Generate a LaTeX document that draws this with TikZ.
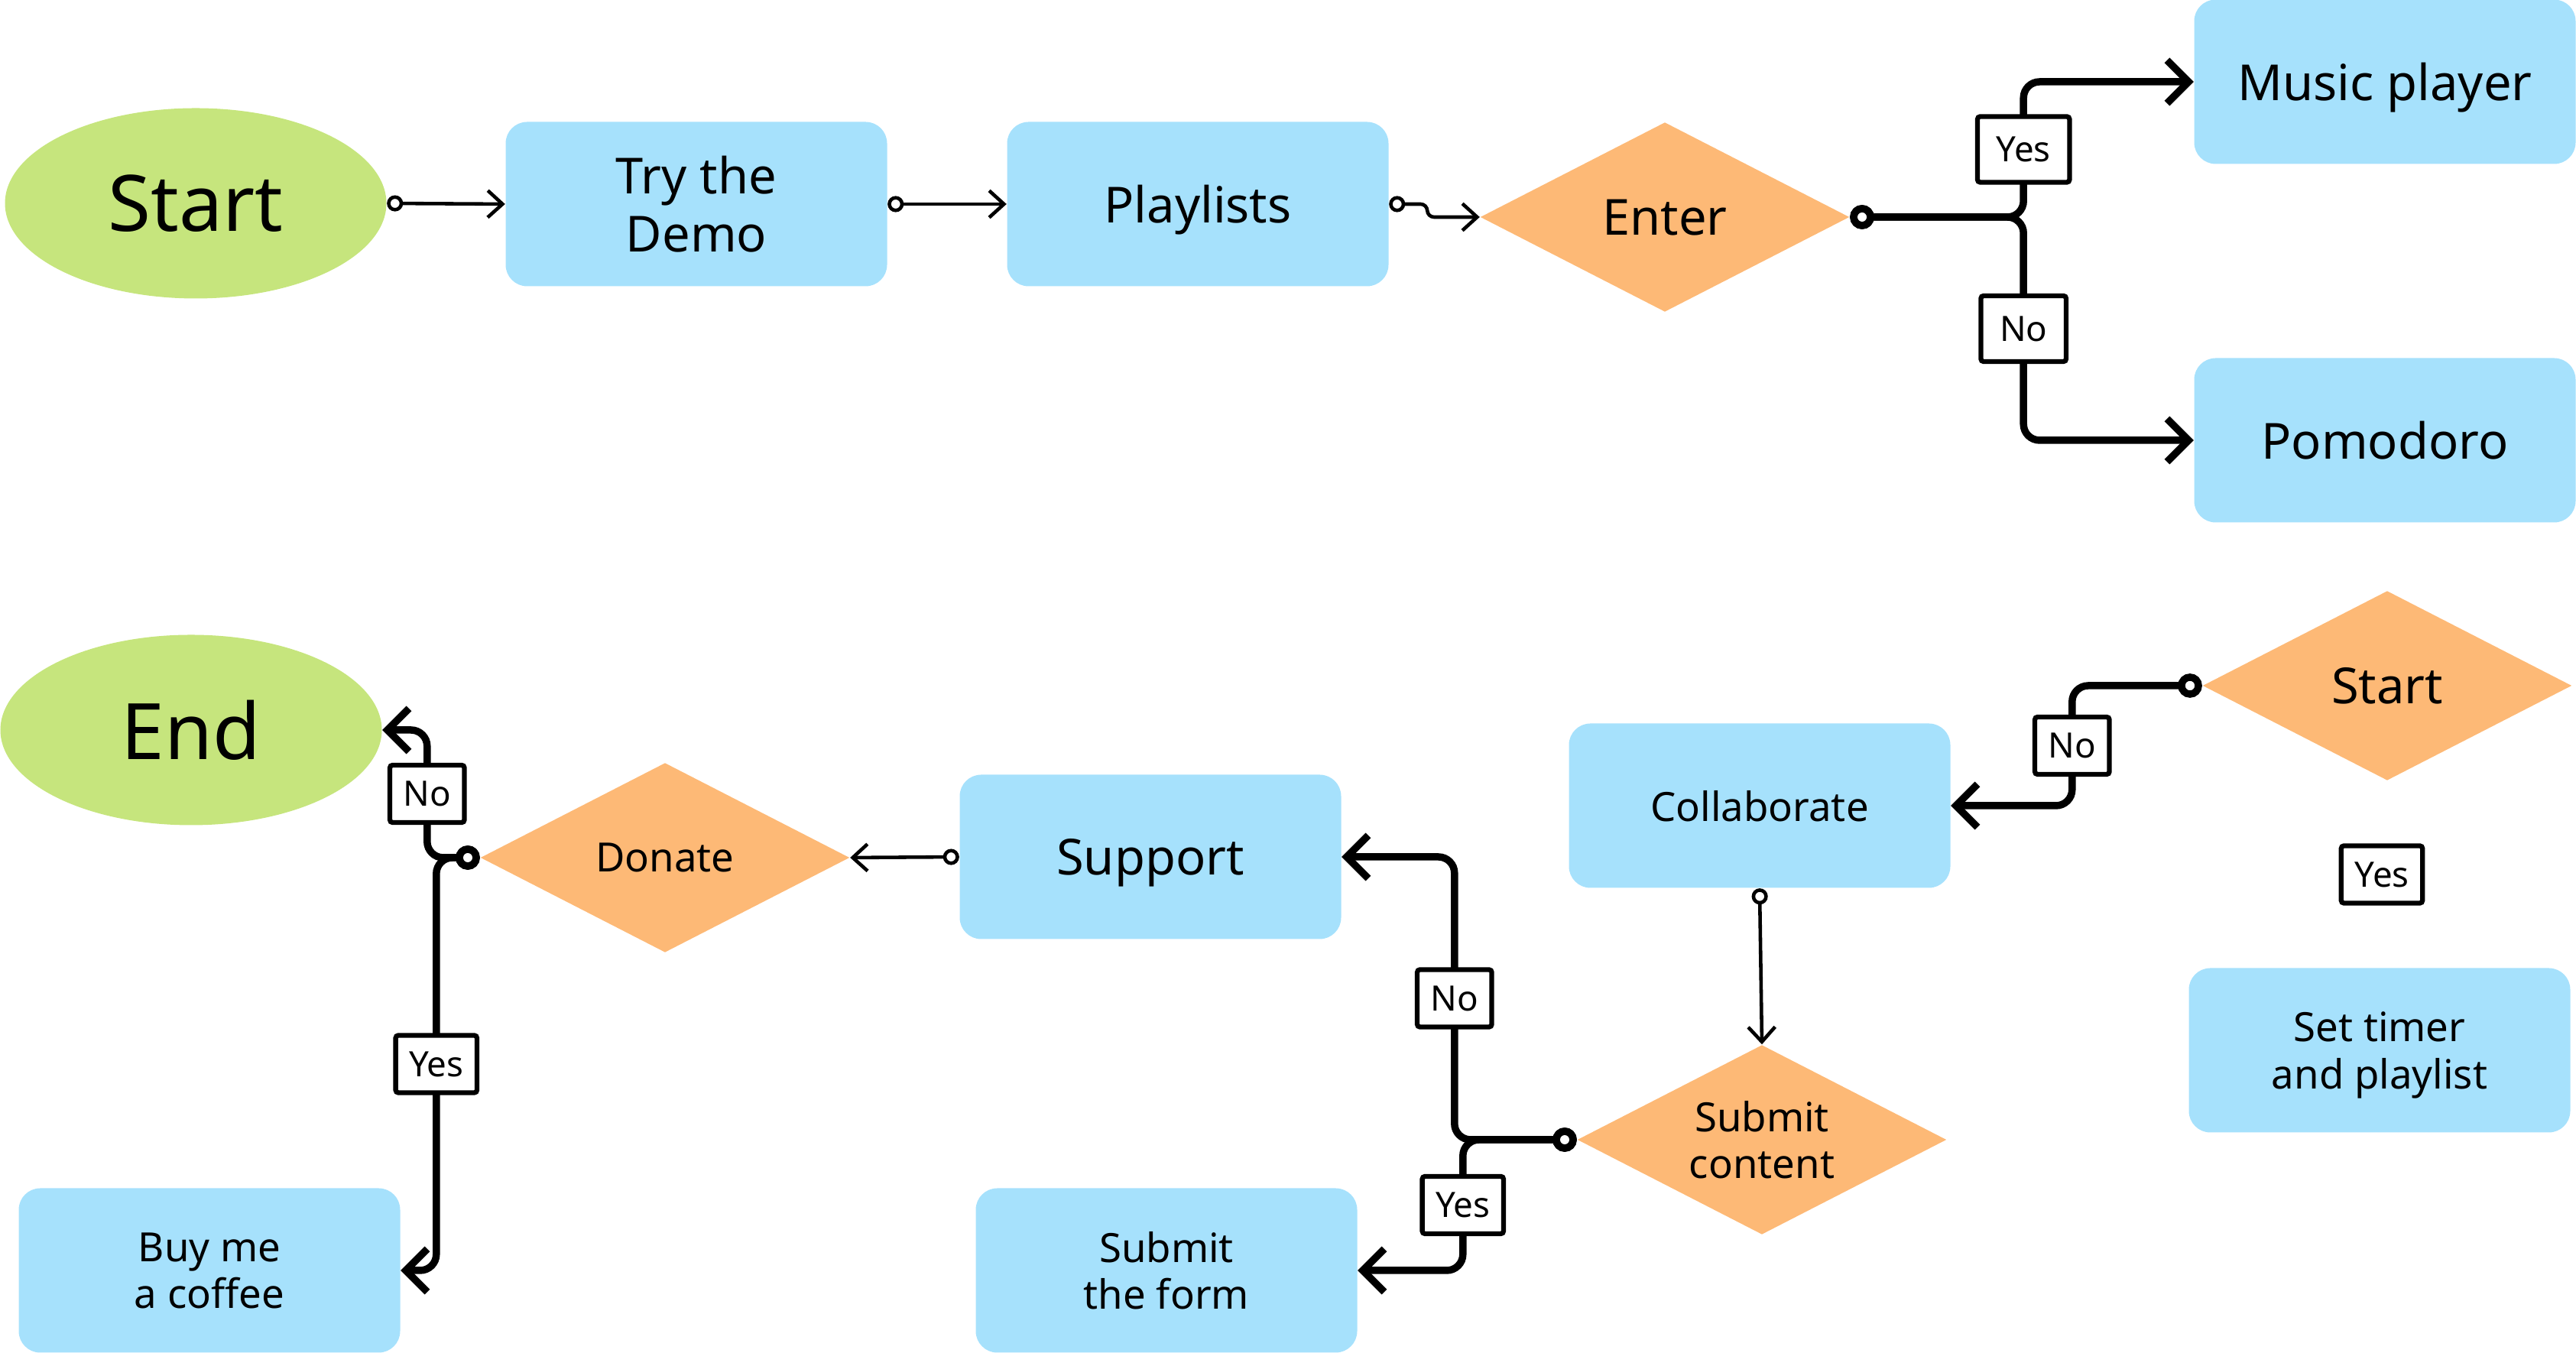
\documentclass[tikz,border=0pt]{standalone}
\usepackage{fontspec}
\setmainfont{Noto Sans}
\usetikzlibrary{positioning,shapes,arrows.meta,calc}

\definecolor{boxblue}{HTML}{A6E1FC}
\definecolor{termgreen}{HTML}{C6E57D}
\definecolor{decorange}{HTML}{FDB976}

\begin{document}
\begin{tikzpicture}[
    terminal/.style={ellipse, fill=termgreen, minimum width=4.99cm, minimum height=2.49cm, font=\fontsize{29}{34}\selectfont},
    process/.style={rectangle, rounded corners=8pt, fill=boxblue, minimum width=4.99cm, minimum height=2.15cm, align=center},
    decision/.style={diamond, aspect=1.95, inner sep=0pt, fill=decorange, minimum width=4.83cm, minimum height=2.48cm, align=center},
    bigtext/.style={font=\fontsize{18.5}{21.5}\selectfont, text depth=0pt},
    smalltext/.style={font=\fontsize{15}{17.5}\selectfont, text depth=0pt},
    answer/.style={draw, fill=white, line width=1.8pt, rounded corners=1pt, inner xsep=5pt, minimum height=0.75cm, font=\fontsize{13}{15}\selectfont},
    answerbig/.style={answer, inner xsep=7pt, minimum height=0.86cm},
    thinflow/.style={line width=1.3pt, {Circle[open,length=6pt,width=6pt]}-{Straight Barb[length=5.5pt,width=10pt]}},
    branch/.style={line width=2.7pt, rounded corners=6pt, {Circle[open,length=9pt,width=9pt]}-{Straight Barb[length=8pt,width=16pt]}}
]
    \useasboundingbox (0,0) rectangle (33.70,17.70);

    % Top row
    \node[terminal] (start) at (2.56,15.04) {Start};
    \node[process, bigtext] (demo) at (9.11,15.03) {Try the\\Demo};
    \node[process, bigtext] (playlists) at (15.67,15.03) {Playlists};
    \node[decision, bigtext] (enter) at (21.78,14.86) {Enter};
    \node[process, bigtext] (music) at (31.20,16.63) {Music player};
    \node[process, bigtext] (pomodoro) at (31.20,11.94) {Pomodoro};

    % Bottom row
    \node[terminal] (finish) at (2.50,8.15) {End};
    \node[decision, smalltext] (donate) at (8.70,6.48) {Donate};
    \node[process, smalltext] (coffee) at (2.74,1.08) {Buy me\\a coffee};
    \node[process, bigtext] (support) at (15.05,6.49) {Support};
    \node[process, smalltext] (collab) at (23.02,7.16) {Collaborate};
    \node[decision, bigtext] (restart) at (31.23,8.73) {Start};
    \node[answer] (loneyes) at (31.16,6.26) {Yes};
    \node[process, smalltext] (timer) at (31.13,3.96) {Set timer\\and playlist};
    \node[decision, smalltext] (submit) at (23.05,2.79) {Submit\\content};
    \node[process, smalltext] (form) at (15.26,1.08) {Submit\\the form};

    % Straight flow
    \draw[thinflow] (start.east) -- (demo.west);
    \draw[thinflow] (demo.east) -- (playlists.west);
    \draw[thinflow, rounded corners=2.5pt] (playlists.east) -- ++(0.5,0) |- (enter.west);
    \draw[thinflow] (support.west) -- (donate.east);
    \draw[thinflow] (collab.south) -- (submit.north);

    % Decisions
    \draw[branch] (enter.east) -- ++(2.27,0) |- node[answerbig, pos=0.25] {Yes} (music.west);
    \draw[branch] (enter.east) -- ++(2.27,0) |- node[answerbig, pos=0.25] {No} (pomodoro.west);
    \draw[branch] (donate.west) -- ++(-0.69,0) |- node[answer, pos=0.25] {No} (finish.east);
    \draw[branch] (donate.west) -- ++(-0.57,0) |- node[answer, pos=0.25] {Yes} (coffee.east);
    \draw[branch] (restart.west) -- ++(-1.70,0) |- node[answer, pos=0.25] {No} (collab.east);
    \draw[branch] (submit.west) -- ++(-1.60,0) |- node[answer, pos=0.25] {No} (support.east);
    \draw[branch] (submit.west) -- ++(-1.49,0) |- node[answer, pos=0.25] {Yes} (form.east);
\end{tikzpicture}
\end{document}
